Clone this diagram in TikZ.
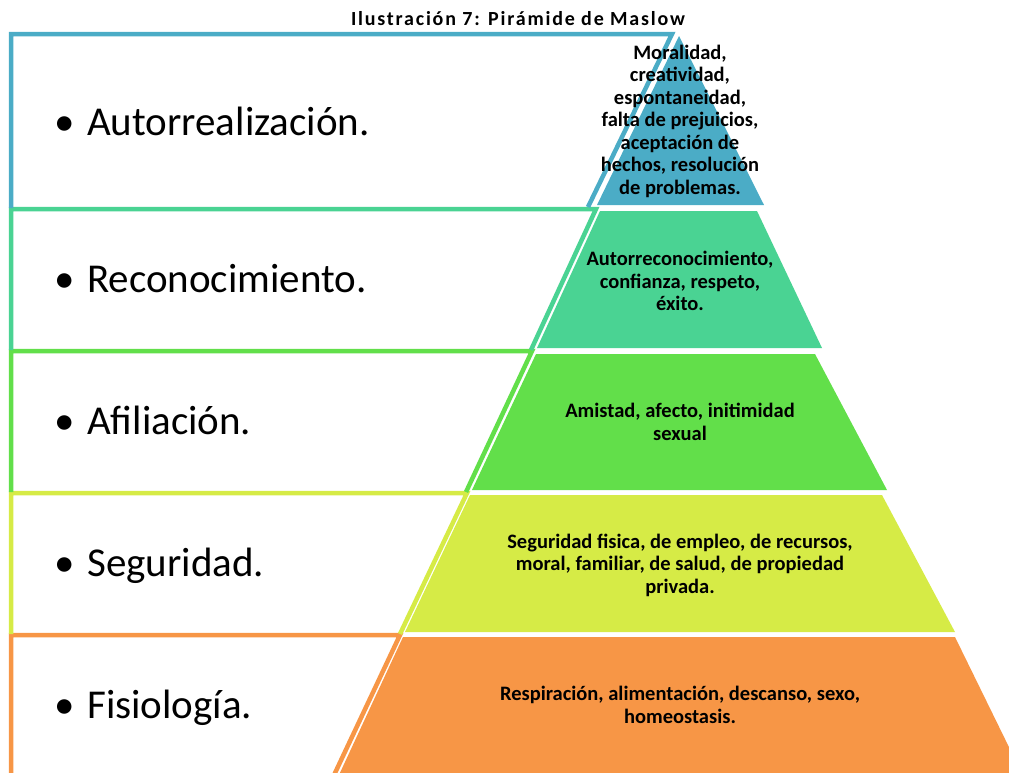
\documentclass[tikz,border=0pt]{standalone}
\usepackage{fontspec}
\setmainfont{Carlito}
\definecolor{nivelA}{HTML}{4BACC6}
\definecolor{nivelB}{HTML}{4AD393}
\definecolor{nivelC}{HTML}{62DF4A}
\definecolor{nivelD}{HTML}{D6EB46}
\definecolor{nivelE}{HTML}{F79646}
\begin{document}
\begin{tikzpicture}[x=1pt,y=-1pt,
  caja/.style={line width=4.5pt,line join=miter},
  etiqueta/.style={anchor=base west,font=\fontsize{41}{48}\selectfont},
  texto/.style={align=center,font=\bfseries\fontsize{20.5}{22.5}\selectfont}]
  \useasboundingbox (0,0) rectangle (1009,772);
  \clip (0,0) rectangle (1009,772);
  % cajas de la izquierda
  \draw[caja,nivelE] (11,790) -- (11,635) -- (400,635) -- (327,790);
  \draw[caja,nivelD] (11,634) -- (11,493) -- (467,493) -- (400,634);
  \draw[caja,nivelC] (11,492) -- (11,351) -- (532,351) -- (466,492);
  \draw[caja,nivelB] (11,350) -- (11,209) -- (596,209) -- (531,350);
  \draw[caja,nivelA] (11,208) -- (11,34) -- (672,34) -- (588,207);
  % piramide
  \fill[nivelA] (679,36) -- (764,205) -- (597,205) -- cycle;
  \fill[nivelB] (600,211) -- (757,211) -- (822,348) -- (537,348) -- cycle;
  \fill[nivelC] (536,354) -- (815,354) -- (887,490) -- (472,490) -- cycle;
  \fill[nivelD] (470,495) -- (882,495) -- (955,632) -- (405,632) -- cycle;
  \fill[nivelE] (403,637) -- (955,637) -- (1030,790) -- (332,790) -- cycle;
  % textos
  \node[font=\bfseries\fontsize{20}{22}\selectfont\addfontfeatures{LetterSpace=9}] (titulo) at (518,19) {Ilustración 7: Pirámide de Maslow};
  \node[etiqueta] (autorrealizacion) at (51,135) {\textbullet\hspace{0.3em}Autorrealización.};
  \node[etiqueta] (reconocimiento) at (51,292) {\textbullet\hspace{0.3em}Reconocimiento.};
  \node[etiqueta] (afiliacion) at (51,434) {\textbullet\hspace{0.3em}Afiliación.};
  \node[etiqueta] (seguridad) at (51,576) {\textbullet\hspace{0.3em}Seguridad.};
  \node[etiqueta] (fisiologia) at (51,718) {\textbullet\hspace{0.3em}Fisiología.};
  \node[texto] (moralidad) at (680,121) {Moralidad,\\creatividad,\\espontaneidad,\\falta de prejuicios,\\aceptación de\\hechos, resolución\\de problemas.};
  \node[texto] (autorreconocimiento) at (680,281) {Autorreconocimiento,\\confianza, respeto,\\éxito.};
  \node[texto] (amistad) at (680,422) {Amistad, afecto, initimidad\\sexual};
  \node[texto] (empleo) at (680,565) {Seguridad fisica, de empleo, de recursos,\\moral, familiar, de salud, de propiedad\\privada.};
  \node[texto] (respiracion) at (680,705) {Respiración, alimentación, descanso, sexo,\\homeostasis.};
\end{tikzpicture}
\end{document}
